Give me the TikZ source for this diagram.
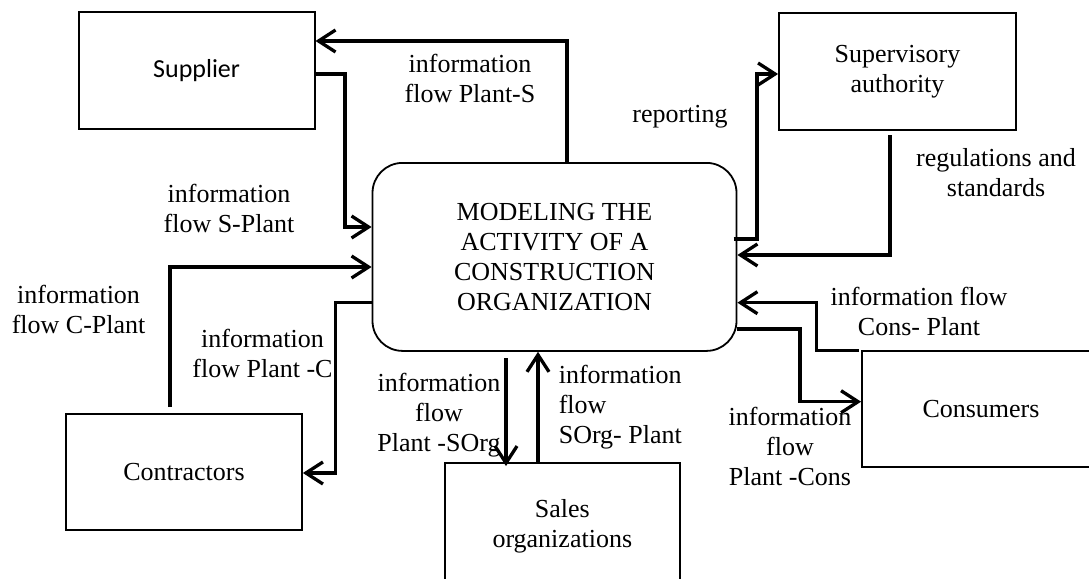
\documentclass[tikz,border=0pt]{standalone}
\usepackage{fontspec}
\setmainfont{Liberation Serif}
\newfontfamily\supfont{Carlito}
\usetikzlibrary{arrows.meta}
\begin{document}
\begin{tikzpicture}[x=1pt,y=-1pt,
  box/.style={draw,line width=1.8pt,inner sep=0pt,align=center,font=\fontsize{26}{30}\selectfont},
  lbl/.style={inner sep=0pt,align=center,font=\fontsize{26}{30}\selectfont},
  flow/.style={line width=3.3pt,-{Straight Barb[length=17pt,width=22pt,line width=3.3pt]}},
  plain/.style={line width=3.3pt}]
\clip (0,0) rectangle (1089,578);
% boxes
\node[box,minimum width=236pt,minimum height=117pt] (sup) at (196.6,70.8) {\supfont Supplier};
\node[box,minimum width=237pt,minimum height=117pt] (auth) at (897.5,71.7) {Supervisory\\authority};
\node[box,minimum width=364pt,minimum height=188pt,rounded corners=30pt] (main) at (554.5,256.9) {MODELING THE\\ACTIVITY OF A\\CONSTRUCTION\\ORGANIZATION};
\node[box,minimum width=236pt,minimum height=116pt] (con) at (184,472) {Contractors};
\node[box,minimum width=238pt,minimum height=116pt] (cons) at (981,409) {Consumers};
\node[box,minimum width=235.4pt,minimum height=127pt] (sales) at (562.3,526.5) {Sales\\organizations};
% coordinates
\coordinate (ps) at (567,41);
\coordinate (sp1) at (345,74);
\coordinate (sp2) at (345,227);
\coordinate (cp0) at (170,407);
\coordinate (cp1) at (170,267);
\coordinate (pc1) at (335.7,302.7);
\coordinate (pc2) at (335.7,473);
\coordinate (po0) at (506,358);
\coordinate (op) at (538,400);
\coordinate (rp0) at (733.6,239);
\coordinate (rp1) at (757,239);
\coordinate (rp2) at (757,74);
\coordinate (rg0) at (890,135);
\coordinate (rg1) at (890,255);
\coordinate (cn0) at (858.6,350.7);
\coordinate (cn1) at (816.8,350.7);
\coordinate (cn2) at (816.8,302.7);
\coordinate (pn1) at (800,329);
\coordinate (pn2) at (800,401.7);
% connectors
\draw[flow] (ps |- main.north) -- (ps) -- (sup.east |- ps);
\draw[flow] (sup.east |- sp1) -- (sp1) -- (sp2) -- (main.west |- sp2);
\draw[flow] (cp0) -- (cp1) -- (main.west |- cp1);
\draw[flow] (main.west |- pc1) -- (pc1) -- (pc2) -- (con.east |- pc2);
\draw[flow] (po0) -- ([yshift=-4pt]po0 |- sales.north);
\draw[flow] (op |- sales.north) -- (op |- main.south);
\draw[flow] (rp0) -- (rp1) -- (rp2) -- (auth.west |- rp2);
\draw[flow] (rg0) -- (rg1) -- (main.east |- rg1);
\draw[flow] (cn0) -- (cn1) -- (cn2) -- (main.east |- cn2);
\draw[flow] (main.east |- pn1) -- (pn1) -- (pn2) -- (cons.west |- pn2);
% labels
\node[lbl] (l1) at (470,78) {information\\flow Plant-S};
\node[lbl] (l2) at (229,208) {information\\flow S-Plant};
\node[lbl] (l3) at (78.6,309) {information\\flow C-Plant};
\node[lbl] (l4) at (262.5,353.5) {information\\flow Plant -C};
\node[lbl] (l5) at (439,415.5) {information\\flow\\Plant -SOrg};
\node[lbl,anchor=west,align=left] (l6) at (558.6,407) {information\\flow\\SOrg- Plant};
\node[lbl] (l7) at (790,446) {information\\flow\\Plant -Cons};
\node[lbl] (l8) at (919,311.5) {information flow\\Cons- Plant};
\node[lbl] (l9) at (680,117) {reporting};
\node[lbl] (l10) at (996,172.5) {regulations and\\standards};
\end{tikzpicture}
\end{document}
